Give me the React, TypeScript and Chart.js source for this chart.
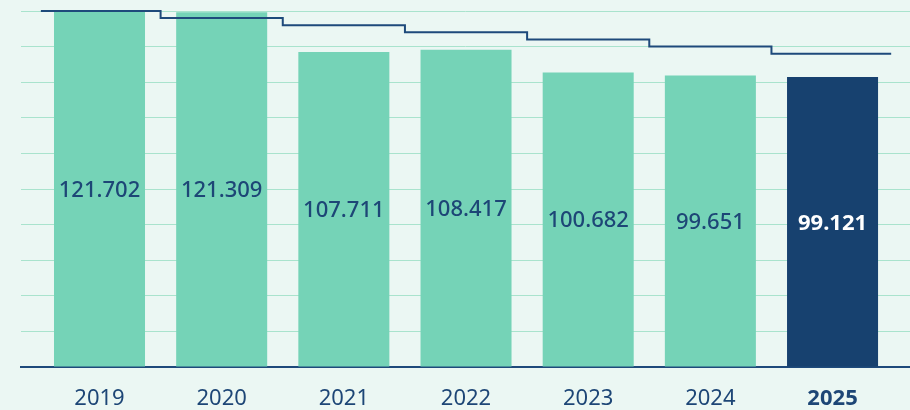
import React, { useEffect, useRef } from 'react';
import { Chart, registerables } from 'chart.js';

Chart.register(...registerables);

// ---- data ----
const years = ['2019', '2020', '2021', '2022', '2023', '2024', '2025'];
const values = [121702, 121309, 107711, 108417, 100682, 99651, 99121];
const target = [121702, 119268, 116834, 114400, 111966, 109532, 107098];
const yMax = 121702;
const gridCount = 10;

// ---- layout of x range (in category units) ----
const X_MIN = -0.6426;
const X_MAX = 6.634;

// ---- style ----
const FONT = "'Noto Sans', sans-serif";
const BG = '#ebf7f3';
const GREEN = '#75d3b7';
const NAVY = '#17416f';
const LINE = '#1e4a7b';
const TEXT = '#1d4676';
const GRID = '#a9e3cd';

const fmt = (v: number) => {
  const th = Math.floor(v / 1000);
  const rest = String(v % 1000).padStart(3, '0');
  return `${th}.${rest}`;
};

const bgPlugin = {
  id: 'bgFill',
  beforeDraw(chart: any) {
    const { ctx, width, height } = chart;
    ctx.save();
    ctx.fillStyle = BG;
    ctx.fillRect(0, 0, width, height);
    ctx.restore();
  },
};

const barLabels = {
  id: 'barLabels',
  afterDatasetsDraw(chart: any) {
    const meta = chart.getDatasetMeta(0);
    const ctx = chart.ctx;
    ctx.save();
    ctx.textAlign = 'center';
    ctx.textBaseline = 'alphabetic';
    meta.data.forEach((el: any, i: number) => {
      const last = i === values.length - 1;
      ctx.font = `${last ? 'bold' : '500'} 22px ${FONT}`;
      ctx.fillStyle = last ? '#ffffff' : TEXT;
      const { x, y, base } = el.getProps(['x', 'y', 'base'], true);
      ctx.fillText(fmt(values[i]), x, (y + base) / 2 + 8);
    });
    ctx.restore();
  },
};

export default function App() {
  const ref = useRef<HTMLCanvasElement | null>(null);

  useEffect(() => {
    if (!ref.current) return;
    const n = values.length;
    const linePoints = target.map((v, i) => ({ x: i === 0 ? i - 0.48 : i - 0.5, y: v }));
    linePoints.push({ x: n - 1 + 0.48, y: target[n - 1] });

    const chart = new Chart(ref.current, {
      type: 'bar',
      data: {
        datasets: [
          {
            type: 'bar',
            data: values.map((v, i) => ({ x: i, y: v })),
            backgroundColor: values.map((_, i) => (i === n - 1 ? NAVY : GREEN)),
            barPercentage: 0.745,
            categoryPercentage: 1,
            borderWidth: 0,
            order: 2,
          } as any,
          {
            type: 'line',
            data: linePoints,
            stepped: 'before',
            borderColor: LINE,
            borderWidth: 2,
            pointRadius: 0,
            fill: false,
            clip: false,
            order: 1,
          } as any,
        ],
      },
      options: {
        responsive: false,
        animation: false,
        layout: { padding: { left: 21, top: 11, right: 0, bottom: 0 } },
        plugins: { legend: { display: false }, tooltip: { enabled: false } },
        scales: {
          x: {
            type: 'linear',
            offset: false,
            bounds: 'data',
            min: X_MIN,
            max: X_MAX,
            grid: { display: false, drawTicks: false, offset: false },
            border: { display: true, color: LINE, width: 2 },
            afterBuildTicks: (s: any) => {
              s.ticks = years.map((_, i) => ({ value: i }));
              s.min = X_MIN;
              s.max = X_MAX;
            },
            afterFit: (s: any) => {
              s.height = 43;
            },
            ticks: {
              padding: 21,
              autoSkip: false,
              maxRotation: 0,
              color: TEXT,
              font: (c: any) => ({
                family: FONT,
                size: 22,
                lineHeight: 1,
                weight: c.index === years.length - 1 ? 'bold' : 'normal',
              }),
              callback: (v: any) => years[Math.round(v)] ?? '',
            },
          } as any,
          y: {
            min: 0,
            max: yMax,
            afterBuildTicks: (s: any) => {
              const t = [];
              for (let i = 0; i <= gridCount; i++) t.push({ value: (yMax * i) / gridCount });
              s.ticks = t;
              s.min = 0;
              s.max = yMax;
            },
            ticks: { display: false },
            grid: { color: GRID, lineWidth: 1, drawTicks: false },
            border: { display: false },
          } as any,
        },
      },
      plugins: [bgPlugin, barLabels],
    });
    return () => chart.destroy();
  }, []);

  return (
    <div style={{ position: 'absolute', left: 0, top: 0, width: 910, height: 410, background: BG }}>
      <canvas ref={ref} width={910} height={410} style={{ display: 'block' }} />
    </div>
  );
}
